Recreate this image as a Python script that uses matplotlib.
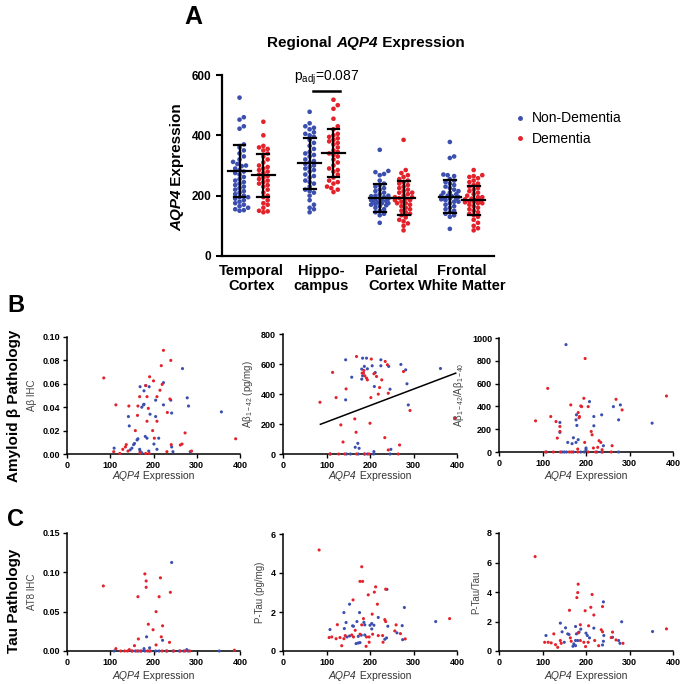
import numpy as np
import matplotlib
matplotlib.use("Agg")
import matplotlib.pyplot as plt
from matplotlib.lines import Line2D
from matplotlib.transforms import IdentityTransform

plt.rcParams['font.family'] = ['Liberation Sans', 'DejaVu Sans']
plt.rcParams['mathtext.fontset'] = 'custom'
plt.rcParams['mathtext.rm'] = 'Liberation Sans'
plt.rcParams['mathtext.it'] = 'Liberation Sans:italic'

BLUE = '#3b4fae'
RED = '#e3222b'

# ---- panel A data ----
regions = ["Temporal\nCortex", "Hippo-\ncampus", "Parietal\nCortex", "Frontal\nWhite Matter"]

tc_nd = [525, 460, 452, 430, 422, 370, 360, 350, 340, 330, 320, 312, 305, 298, 290, 285, 280, 275, 270, 262,
         255, 250, 245, 240, 235, 230, 225, 220, 215, 210, 205, 200, 195, 190, 185, 180, 175, 170, 165, 160,
         155, 150, 152, 195, 300]
tc_d = [445, 400, 365, 360, 355, 350, 340, 330, 320, 310, 300, 295, 290, 285, 280, 275, 270, 265, 260, 255,
        250, 245, 240, 235, 230, 220, 210, 200, 195, 185, 175, 170, 160, 150, 145, 148]
hc_nd = [478, 440, 430, 425, 420, 410, 405, 400, 395, 385, 375, 365, 355, 345, 340, 335, 330, 320, 315, 310,
         305, 300, 295, 290, 285, 280, 270, 260, 250, 245, 240, 230, 220, 210, 200, 185, 170, 160, 155, 145,
         215, 265]
hc_d = [518, 500, 488, 455, 430, 420, 405, 400, 395, 390, 385, 380, 375, 370, 360, 350, 345, 340, 335, 330,
        320, 310, 300, 290, 285, 280, 270, 260, 250, 245, 240, 230, 220, 212, 225]
pc_nd = [352, 282, 278, 272, 268, 250, 240, 235, 230, 225, 220, 215, 210, 205, 200, 198, 195, 192, 190, 188,
         185, 182, 180, 178, 175, 172, 170, 168, 165, 160, 155, 150, 145, 140, 135, 110, 185, 200, 175]
pc_d = [385, 285, 275, 268, 262, 255, 250, 245, 240, 235, 230, 225, 220, 215, 210, 205, 200, 195, 192, 190,
        185, 180, 175, 170, 165, 160, 155, 150, 145, 140, 135, 128, 120, 115, 108, 100, 85, 195, 185, 175, 210]
fwm_nd = [378, 330, 325, 270, 268, 265, 255, 250, 245, 240, 235, 230, 225, 220, 215, 210, 205, 200, 198, 195,
          192, 190, 188, 185, 180, 175, 170, 165, 160, 155, 150, 145, 140, 135, 130, 90, 200, 210, 180, 190]
fwm_d = [285, 268, 265, 262, 258, 250, 245, 240, 235, 230, 225, 220, 215, 210, 205, 200, 195, 190, 188, 185,
         182, 180, 178, 175, 170, 165, 160, 155, 150, 145, 140, 135, 130, 120, 110, 100, 92, 85, 195, 185, 175]

nd_means = [282, 307, 192, 197]
nd_sds = [87, 84, 46, 56]
d_means = [267, 342, 192, 184]
d_sds = [71, 79, 56, 49]

# ---- panel B data (x = AQP4 expression) ----
b1_d_x = [85, 113, 143, 164, 168, 163, 158, 182, 191, 185, 188, 185, 200, 223, 218, 240, 215, 208, 208, 198,
          202, 220, 232, 238, 273, 241, 262, 266, 288, 390, 108, 122, 129, 135, 137, 141, 169, 182, 190, 231]
b1_d_y = [.065, .042, .041, .041, .049, .033, .020, .0585, .066, .049, .039, .028, .0625, .0886, .0755, .080,
          .0545, .049, .028, .020, .0135, .0595, .0355, .047, .018, .008, .0077, .0085, .0025, .013,
          .002, .0005, .004, .006, .008, .0025, .001, .0005, .0005, .002]
b1_nd_x = [109, 146, 150, 154, 156, 162, 164, 168, 169, 173, 181, 185, 189, 201, 208, 212, 242, 245, 285,
           144, 142, 169, 178, 182, 190, 177, 178, 173, 192, 205, 205, 223, 223, 240, 242, 267, 278, 281, 357]
b1_nd_y = [.005, .0035, .005, .008, .009, .012, .013, .004, .0025, .001, .015, .0135, .0025, .0085, .004,
           .0135, .006, .002, .002, .024, .032, .0575, .054, .0585, .0575, .042, .0425, .040, .034, .032,
           .046, .061, .042, .046, .035, .073, .048, .041, .036]

b2_d_x = [85, 114, 122, 145, 133, 165, 168, 138, 169, 185, 188, 186, 192, 194, 182, 203, 202, 200, 209, 215,
          219, 222, 227, 235, 240, 242, 277, 292, 234, 242, 268, 396, 108, 128, 142, 169, 188, 198, 265]
b2_d_y = [345, 544, 376, 434, 194, 234, 145, 80, 650, 539, 521, 557, 506, 494, 539, 633, 376, 205, 535, 517,
          399, 443, 494, 617, 595, 405, 550, 290, 109, 27, 60, 238, 0, 0, 0, 0, 0, 0, 0]
b2_nd_x = [144, 144, 158, 181, 183, 187, 194, 192, 181, 183, 212, 205, 225, 225, 243, 246, 210, 271, 282, 285,
           288, 362, 172, 166, 175, 209, 248, 109, 146, 155, 173, 187, 194, 208, 246]
b2_nd_y = [628, 361, 512, 566, 639, 584, 568, 639, 499, 521, 543, 588, 588, 628, 584, 432, 450, 597, 561, 468,
           327, 570, 71, 45, 38, 16, 31, 0, 0, 0, 0, 0, 0, 0, 0]
b2_fit_x = [86, 397]
b2_fit_y = [198, 539]

b3_d_x = [84, 112, 119, 131, 134, 140, 140, 165, 188, 190, 182, 185, 184, 198, 195, 205, 197, 212, 214, 230,
          234, 217, 227, 237, 269, 283, 260, 385, 181, 107, 125, 141, 162, 167, 181, 205, 222, 238, 258]
b3_d_y = [273, 558, 311, 267, 122, 224, 180, 413, 404, 398, 346, 311, 300, 820, 471, 398, 84, 180, 151, 99,
          84, 35, 41, 20, 462, 369, 55, 491, 26, 0, 0, 0, 0, 0, 0, 0, 0, 0, 0]
b3_nd_x = [154, 140, 140, 158, 168, 171, 177, 182, 177, 179, 178, 208, 218, 218, 236, 240, 263, 275, 279, 352,
           200, 200, 109, 145, 150, 155, 171, 188, 196, 225, 236, 275]
b3_nd_y = [942, 259, 172, 84, 73, 125, 84, 108, 282, 233, 326, 442, 311, 230, 326, 55, 398, 282, 413, 253,
           35, 20, 0, 0, 0, 0, 0, 0, 0, 0, 0, 0]

# ---- panel C data ----
c1_d_x = [84, 180, 183, 183, 164, 216, 213, 239, 206, 188, 199, 221, 165, 218, 237, 206, 156, 113, 387, 144,
          124, 133, 140, 151, 162, 170, 186, 193, 220, 231, 247, 262, 273, 284]
c1_d_y = [.0827, .098, .089, .081, .069, .093, .069, .0746, .050, .034, .027, .032, .0153, .018, .011, .0077,
          .0068, .003, .001, .0017, 0, 0, 0, 0, 0, 0, 0, 0, 0, 0, 0, 0, 0, 0]
c1_nd_x = [242, 184, 221, 178, 191, 277, 109, 150, 158, 165, 172, 180, 190, 205, 213, 230, 245, 260, 270, 280, 352]
c1_nd_y = [.1125, .018, .0136, .003, .004, .0017, 0, 0, 0, 0, 0, 0, 0, 0, 0, 0, 0, 0, 0, 0, 0]

c2_d_x = [83, 181, 177, 183, 213, 210, 196, 236, 161, 217, 205, 185, 125, 234, 236, 260, 166, 143, 158, 162,
          106, 112, 122, 131, 140, 135, 177, 192, 198, 198, 191, 206, 219, 229, 230, 257, 270, 281, 383, 181]
c2_d_y = [5.18, 4.32, 3.57, 3.57, 3.29, 3.02, 2.88, 3.17, 2.62, 2.40, 1.89, 1.66, 1.35, 1.61, 1.51, 1.34, 1.06,
          0.79, 0.82, 0.72, 0.69, 0.72, 0.63, 0.69, 0.63, 0.27, 0.86, 0.72, 0.72, 0.45, 0.24, 0.86, 0.79, 0.79,
          0.45, 1.03, 0.89, 0.62, 1.66, 1.34]
c2_nd_x = [239, 153, 279, 140, 176, 219, 145, 170, 186, 188, 160, 162, 200, 204, 209, 108, 141, 204, 241, 274,
           173, 180, 188, 147, 153, 168, 173, 177, 238, 234, 262, 275, 351]
c2_nd_y = [3.16, 2.40, 2.23, 1.97, 1.97, 1.72, 1.46, 1.51, 1.47, 1.34, 1.29, 1.27, 1.32, 1.41, 1.32, 1.10, 1.15,
           1.13, 1.27, 1.30, 0.75, 0.81, 0.82, 0.72, 0.77, 0.38, 0.41, 0.43, 0.67, 0.60, 0.93, 0.58, 1.51]

c3_d_x = [83, 182, 181, 179, 214, 162, 198, 211, 238, 218, 187, 206, 182, 235, 238, 261, 126, 105, 113, 120,
          130, 135, 141, 143, 164, 166, 187, 195, 199, 205, 220, 229, 258, 269, 285, 385]
c3_d_y = [6.40, 4.53, 3.96, 3.62, 3.83, 2.76, 2.73, 2.96, 3.01, 2.44, 1.78, 1.71, 1.23, 1.44, 1.30, 1.28, 1.16,
          0.59, 0.59, 0.55, 0.43, 0.25, 0.71, 0.52, 0.89, 0.66, 0.71, 0.59, 0.30, 0.59, 0.71, 0.36, 0.91, 0.75,
          0.52, 1.50]
c3_nd_x = [240, 282, 141, 153, 176, 218, 188, 108, 145, 158, 161, 178, 184, 200, 203, 208, 241, 261, 176, 181,
           172, 170, 176, 238, 240, 275, 278, 353, 150]
c3_nd_y = [3.33, 1.98, 1.89, 1.57, 1.66, 1.55, 1.48, 1.05, 1.30, 1.16, 1.12, 1.16, 1.28, 1.21, 1.05, 0.89, 1.05,
           0.93, 0.71, 0.71, 0.48, 0.32, 0.36, 0.41, 0.66, 0.71, 0.52, 1.32, 0.59]


def swarm(vals, center, d=4.3, wmax=10.5, kx=70.0, ky=181 / 600):
    # beeswarm with a capped width (pixels); returns x data positions
    vals = np.asarray(vals, float)
    xs = np.zeros(len(vals))
    placed = []
    step = d * 0.5
    n = int(wmax / step)
    cands = [0.0]
    for k in range(1, n + 1):
        cands += [k * step, -k * step]
    for i in np.argsort(vals):
        y = vals[i] * ky
        best, best_gap = 0.0, -1
        for off in cands:
            gap = min([np.hypot(off - px, y - py) for px, py in placed] + [99])
            if gap >= d:
                best = off
                break
            if gap > best_gap:
                best, best_gap = off, gap
        placed.append((best, y))
        xs[i] = center + best / kx
    return xs


fig = plt.figure(figsize=(6.85, 6.84), dpi=100)
W, H = 685.0, 684.0
renderer = fig.canvas.get_renderer()


def box(l, t, r, b):
    return [l / W, 1 - b / H, (r - l) / W, (b - t) / H]


def rich_text(x, y, parts, rotation=0, **kw):
    # parts drawn one after another, centered on (x, y) given in image pixels (baseline)
    texts, sizes = [], []
    for s, style in parts:
        t = fig.text(0, 0, s, style=style, rotation=rotation, rotation_mode='anchor',
                     ha='left', va='baseline', transform=IdentityTransform(), **kw)
        bb = t.get_window_extent(renderer)
        sizes.append(bb.height if rotation == 90 else bb.width)
        texts.append(t)
    pos = -sum(sizes) / 2
    for t, sz in zip(texts, sizes):
        if rotation == 90:
            t.set_position((x, H - y + pos))
        else:
            t.set_position((x + pos, H - y))
        pos += sz


# ---------------- panel A ----------------
ax = fig.add_axes(box(222, 75, 494, 256))
groups_nd = [tc_nd, hc_nd, pc_nd, fwm_nd]
groups_d = [tc_d, hc_d, pc_d, fwm_d]
off = 0.17
for i in range(4):
    c = i + 1
    for vals, xc, col, m, s in [(groups_nd[i], c - off, BLUE, nd_means[i], nd_sds[i]),
                                (groups_d[i], c + off, RED, d_means[i], d_sds[i])]:
        xs = swarm(vals, xc)
        ax.scatter(xs, vals, s=11, color=col, edgecolors='none', zorder=2, clip_on=False)
        ax.plot([xc - 0.16, xc + 0.16], [m, m], color='black', lw=1.6, zorder=3)
        ax.plot([xc, xc], [m - s, m + s], color='black', lw=1.6, zorder=3)
        ax.plot([xc - 0.085, xc + 0.085], [m + s, m + s], color='black', lw=1.6, zorder=3)
        ax.plot([xc - 0.085, xc + 0.085], [m - s, m - s], color='black', lw=1.6, zorder=3)

ax.set_xlim(0.58, 4.46)
ax.set_ylim(0, 600)
ax.set_yticks([0, 200, 400, 600])
ax.set_xticks([1, 2, 3, 4])
ax.set_xticklabels(regions, fontsize=10.5, fontweight='bold', linespacing=1.05)
ax.tick_params(axis='x', length=0, pad=6)
ax.tick_params(axis='y', labelsize=8.5, width=1.5, length=4)
for lab in ax.get_yticklabels():
    lab.set_fontweight('bold')
for sp in ['top', 'right']:
    ax.spines[sp].set_visible(False)
for sp in ['left', 'bottom']:
    ax.spines[sp].set_linewidth(1.6)

rich_text(181, 167, [("AQP4", 'italic'), (" Expression", 'normal')], rotation=90,
          fontsize=11, fontweight='bold')

# significance bar
ax.plot([2 - 0.12, 2 + 0.26], [548, 548], color='black', lw=1.8, clip_on=False)
ax.text(2.07, 560, r"p$_{\mathrm{adj}}$=0.087", fontsize=10, ha='center', va='bottom')

rich_text(366, 47, [("Regional ", 'normal'), ("AQP4", 'italic'), (" Expression", 'normal')],
          fontsize=11, fontweight='bold')
fig.text(193 / W, 1 - 17 / H, "A", fontsize=18, fontweight='bold', ha='center', va='center')

handles = [Line2D([], [], marker='o', ls='none', color=BLUE, markersize=2.5, label='Non-Dementia'),
           Line2D([], [], marker='o', ls='none', color=RED, markersize=2.5, label='Dementia')]
fig.legend(handles=handles, loc='upper left', bbox_to_anchor=(501 / W, 1 - 99 / H), frameon=False,
           fontsize=10, handlelength=0.9, handletextpad=0.4, labelspacing=0.45)


# ---------------- scatter panels ----------------
def scatter_panel(l, t, r, b, nd_x, nd_y, d_x, d_y, ymax, yticks, ylabel, fmt, xlab_y):
    a = fig.add_axes(box(l, t, r, b))
    a.scatter(nd_x, nd_y, s=5, color=BLUE, edgecolors='none', clip_on=False, zorder=3)
    a.scatter(d_x, d_y, s=5, color=RED, edgecolors='none', clip_on=False, zorder=3)
    a.set_xlim(0, 400)
    a.set_ylim(0, ymax)
    a.set_xticks([0, 100, 200, 300, 400])
    a.set_yticks(yticks)
    a.set_yticklabels([fmt.format(v) for v in yticks])
    a.tick_params(labelsize=6.5, width=1, length=3, pad=2)
    for lab in a.get_xticklabels() + a.get_yticklabels():
        lab.set_fontweight('bold')
    for sp in ['top', 'right']:
        a.spines[sp].set_visible(False)
    for sp in ['left', 'bottom']:
        a.spines[sp].set_linewidth(1.1)
    a.set_ylabel(ylabel, fontsize=7, color='#444444', labelpad=4)
    rich_text((l + r) / 2, xlab_y, [("AQP4", 'italic'), (" Expression", 'normal')],
              fontsize=7.5, color='#333333')
    return a


scatter_panel(67, 337, 240, 454, b1_nd_x, b1_nd_y, b1_d_x, b1_d_y, 0.10,
              [0, 0.02, 0.04, 0.06, 0.08, 0.10], "Aβ IHC", "{:.2f}", 479)
a2 = scatter_panel(283, 334, 457, 454, b2_nd_x, b2_nd_y, b2_d_x, b2_d_y, 800,
                   [0, 200, 400, 600, 800], r"Aβ$_{\mathrm{1-42}}$ (pg/mg)", "{:.0f}", 479)
a2.plot(b2_fit_x, b2_fit_y, color='black', lw=1.1, zorder=2)
scatter_panel(499, 338, 673, 452, b3_nd_x, b3_nd_y, b3_d_x, b3_d_y, 1000,
              [0, 200, 400, 600, 800, 1000], r"Aβ$_{\mathrm{1-42}}$/Aβ$_{\mathrm{1-40}}$", "{:.0f}", 479)

scatter_panel(67, 533, 240, 651, c1_nd_x, c1_nd_y, c1_d_x, c1_d_y, 0.15,
              [0, 0.05, 0.10, 0.15], "AT8 IHC", "{:.2f}", 679)
scatter_panel(283, 534, 457, 651, c2_nd_x, c2_nd_y, c2_d_x, c2_d_y, 6,
              [0, 2, 4, 6], "P-Tau (pg/mg)", "{:.0f}", 679)
scatter_panel(499, 533, 673, 651, c3_nd_x, c3_nd_y, c3_d_x, c3_d_y, 8,
              [0, 2, 4, 6, 8], "P-Tau/Tau", "{:.0f}", 679)

fig.text(16 / W, 1 - 305 / H, "B", fontsize=17, fontweight='bold', ha='center', va='center')
fig.text(16 / W, 1 - 519 / H, "C", fontsize=17, fontweight='bold', ha='center', va='center')
fig.text(14 / W, 1 - 406 / H, "Amyloid β Pathology", fontsize=11, fontweight='bold', rotation=90,
         ha='center', va='center')
fig.text(14 / W, 1 - 601 / H, "Tau Pathology", fontsize=11, fontweight='bold', rotation=90,
         ha='center', va='center')

fig.savefig("out.png", dpi=100)
